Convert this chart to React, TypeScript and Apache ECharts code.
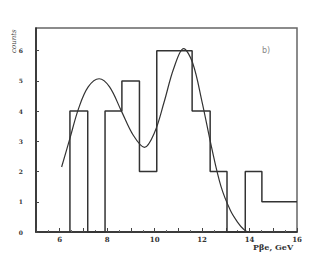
import React, { useEffect, useRef } from "react";
import * as echarts from "echarts";

const binEdges = [6.43, 7.18, 7.91, 8.62, 9.36, 10.09, 11.58, 12.34, 13.05, 13.82, 14.52, 16];
const binCounts = [4, 0, 4, 5, 2, 6, 4, 2, 0, 2, 1];
const fitX = [6.08, 6.43, 6.8, 7.2, 7.66, 8.1, 8.6, 9.1, 9.57, 10.0, 10.4, 10.8, 11.22, 11.6, 12.0, 12.4, 12.8, 13.2, 13.5, 13.75, 13.95, 14.15];
const fitY = [2.15, 3.1, 4.1, 4.8, 5.07, 4.8, 4.0, 3.2, 2.8, 3.3, 4.3, 5.4, 6.07, 5.6, 4.3, 2.8, 1.5, 0.7, 0.32, 0.09, 0.0, 0.0];
const xTickLabels = [6, 8, 10, 12, 14, 16];
const yTickLabels = [0, 1, 2, 3, 4, 5, 6];

export default function App() {
  const ref = useRef<HTMLDivElement>(null);
  useEffect(() => {
    if (!ref.current) return;
    const chart = echarts.init(ref.current, null, { renderer: "svg" });
    const histPts: number[][] = [[binEdges[0], 0]];
    binCounts.forEach((c, i) => {
      histPts.push([binEdges[i], c]);
      histPts.push([binEdges[i + 1], c]);
    });
    const fitPts = fitX.map((x, i) => [x, fitY[i]]);
    const labelFont = {
      fontFamily: "DejaVu Serif",
      fontWeight: "bold" as const,
      fontSize: 7,
      color: "#333",
    };
    chart.setOption({
      animation: false,
      backgroundColor: "#fff",
      grid: {
        left: 36,
        top: 28,
        right: 14,
        bottom: 41,
        show: true,
        borderColor: "#666",
        borderWidth: 1.5,
      },
      xAxis: {
        type: "value",
        min: 5,
        max: 16,
        interval: 1,
        axisLine: { show: true, onZero: false, lineStyle: { color: "#222", width: 1.5 } },
        axisTick: { show: true, inside: true, length: 4, lineStyle: { color: "#444" } },
        minorTick: { show: true, splitNumber: 2, length: 2, lineStyle: { color: "#666" } },
        splitLine: { show: false },
        axisLabel: {
          ...labelFont,
          margin: 4,
          formatter: (v: number) => (xTickLabels.includes(v) ? String(v) : ""),
        },
      },
      yAxis: {
        type: "value",
        min: 0,
        max: 6.75,
        interval: 1,
        axisLine: { show: true, lineStyle: { color: "#222", width: 1.5 } },
        axisTick: { show: true, inside: true, length: 3, lineStyle: { color: "#444" } },
        splitLine: { show: false },
        axisLabel: {
          ...labelFont,
          fontSize: 6,
          margin: 13,
          showMaxLabel: false,
          formatter: (v: number) => (yTickLabels.includes(v) ? String(v) : ""),
        },
      },
      series: [
        {
          type: "line",
          data: histPts,
          showSymbol: false,
          lineStyle: { color: "#333", width: 1.5 },
          z: 2,
        },
        {
          type: "line",
          data: fitPts,
          smooth: 0.35,
          showSymbol: false,
          lineStyle: { color: "#333", width: 1.2 },
          z: 3,
        },
      ],
      graphic: [
        {
          type: "text",
          x: 10,
          y: 53,
          rotation: Math.PI / 2,
          style: {
            text: "counts",
            fontFamily: "DejaVu Serif",
            fontStyle: "italic",
            fontSize: 7,
            fill: "#444",
          },
        },
        {
          type: "text",
          x: 262,
          y: 46,
          style: {
            text: "b)",
            fontFamily: "DejaVu Sans",
            fontSize: 8,
            fill: "#888",
          },
        },
        {
          type: "text",
          x: 253,
          y: 243,
          style: {
            text: "Pβe, GeV",
            fontFamily: "DejaVu Serif",
            fontWeight: "bold",
            fontSize: 8,
            fill: "#333",
          },
        },
      ],
    });
    return () => chart.dispose();
  }, []);
  return (
    <div
      ref={ref}
      style={{ position: "fixed", left: 0, top: 0, width: 311, height: 273 }}
    />
  );
}
